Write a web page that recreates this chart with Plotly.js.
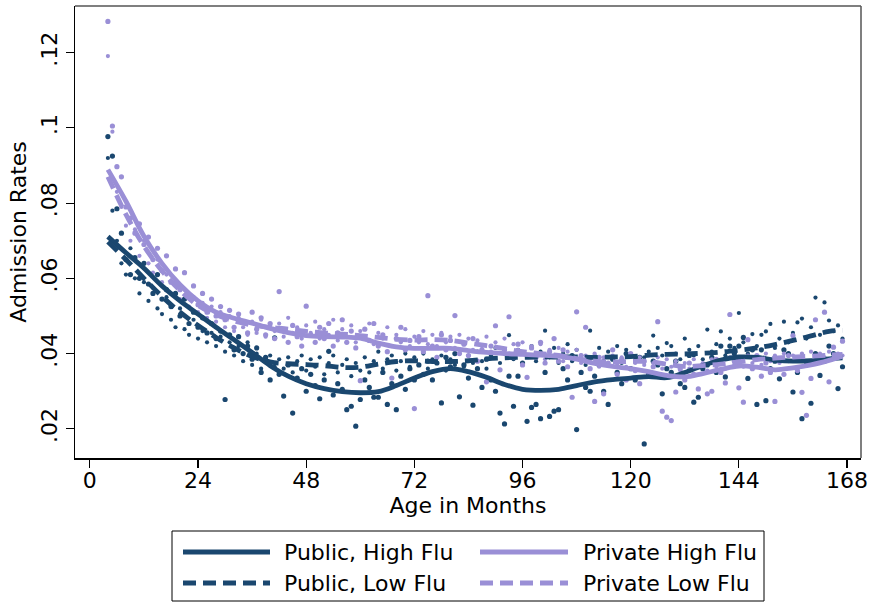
<!DOCTYPE html>
<html>
<head>
<meta charset="utf-8">
<script src="https://cdn.plot.ly/plotly-3.0.1.min.js"></script>
<style>html,body{margin:0;padding:0;background:#fff;}#chart{width:873px;height:607px;}</style>
</head>
<body>
<div id="chart"></div>
<script>
// ---------------- DATA ----------------
const seriesNames = ["Public, High Flu", "Public, Low Flu", "Private High Flu", "Private Low Flu"];
const xTicks = [0, 24, 48, 72, 96, 120, 144, 168];
const yTicks = [0.02, 0.04, 0.06, 0.08, 0.10, 0.12];
const yTickText = [".02", ".04", ".06", ".08", ".1", ".12"];

const firstMonth = 4, lastMonth = 167;
const months = Array.from({length: lastMonth - firstMonth + 1}, (_, i) => firstMonth + i);

const pubHiPts = [
0.0977,0.0925,0.0785,0.0720,0.0650,0.0610,0.0655,0.0600,0.0640,0.0585,0.0560,0.0610,
0.0545,0.0570,0.0525,0.0560,0.0500,0.0545,0.0480,0.0510,0.0470,0.0495,0.0455,0.0480,
0.0440,0.0460,0.0278,0.0450,0.0410,0.0445,0.0400,0.0420,0.0385,0.0415,0.0350,0.0390,
0.0330,0.0442,0.0345,0.0287,0.0370,0.0242,0.0335,0.0360,0.0300,0.0345,0.0315,0.0280,
0.0330,0.0406,0.0290,0.0320,0.0305,0.0251,0.0260,0.0207,0.0278,0.0330,0.0310,0.0284,
0.0284,0.0350,0.0265,0.0320,0.0251,0.0340,0.0305,0.0360,0.0330,0.0370,0.0345,0.0380,
0.0330,0.0375,0.0269,0.0390,0.0365,0.0400,0.0285,0.0370,0.0335,0.0263,0.0360,0.0310,
0.0385,0.0330,0.0300,0.0242,0.0213,0.0340,0.0260,0.0340,0.0375,0.0220,0.0257,0.0265,
0.0227,0.0350,0.0233,0.0247,0.0251,0.0360,0.0330,0.0395,0.0198,0.0350,0.0310,0.0300,
0.0340,0.0370,0.0300,0.0265,0.0385,0.0350,0.0320,0.0400,0.0360,0.0330,0.0390,0.0160,
0.0345,0.0380,0.0370,0.0293,0.0360,0.0350,0.0380,0.0320,0.0310,0.0395,0.0271,0.0284,
0.0360,0.0370,0.0390,0.0350,0.0420,0.0338,0.0420,0.0400,0.0420,0.0443,0.0334,0.0410,
0.0265,0.0410,0.0275,0.0360,0.0380,0.0333,0.0410,0.0400,0.0298,0.0350,0.0227,0.0370,
0.0268,0.0400,0.0342,0.0380,0.0420,0.0400,0.0307,0.0365];

const pubLoPts = [
0.0920,0.0780,0.0700,0.0640,0.0610,0.0680,0.0600,0.0560,0.0590,0.0540,0.0575,0.0520,
0.0505,0.0550,0.0490,0.0470,0.0520,0.0465,0.0450,0.0490,0.0440,0.0460,0.0430,0.0455,
0.0420,0.0445,0.0405,0.0430,0.0395,0.0420,0.0380,0.0430,0.0370,0.0400,0.0360,0.0390,
0.0395,0.0365,0.0385,0.0360,0.0390,0.0350,0.0380,0.0395,0.0355,0.0385,0.0365,0.0390,
0.0345,0.0375,0.0395,0.0350,0.0370,0.0385,0.0340,0.0375,0.0355,0.0390,0.0350,0.0380,
0.0405,0.0360,0.0385,0.0395,0.0355,0.0380,0.0400,0.0365,0.0390,0.0370,0.0400,0.0360,
0.0385,0.0375,0.0395,0.0355,0.0385,0.0370,0.0400,0.0365,0.0395,0.0375,0.0405,0.0380,
0.0360,0.0395,0.0415,0.0375,0.0400,0.0449,0.0385,0.0410,0.0370,0.0395,0.0420,0.0380,
0.0405,0.0461,0.0390,0.0415,0.0375,0.0400,0.0425,0.0380,0.0410,0.0395,0.0370,0.0461,
0.0395,0.0415,0.0380,0.0405,0.0390,0.0420,0.0375,0.0410,0.0395,0.0385,0.0420,0.0390,
0.0405,0.0448,0.0415,0.0395,0.0428,0.0420,0.0400,0.0385,0.0440,0.0410,0.0395,0.0420,
0.0385,0.0464,0.0405,0.0425,0.0459,0.0395,0.0440,0.0415,0.0508,0.0430,0.0400,0.0452,
0.0420,0.0450,0.0459,0.0479,0.0415,0.0440,0.0485,0.0430,0.0455,0.0483,0.0493,0.0440,
0.0470,0.0549,0.0450,0.0536,0.0488,0.0460,0.0475,0.0440];

const priHiPts = [
0.1283,0.1005,0.0897,0.0870,0.0790,0.0760,0.0720,0.0745,0.0690,0.0710,0.0650,0.0680,
0.0620,0.0660,0.0590,0.0625,0.0570,0.0615,0.0555,0.0580,0.0530,0.0560,0.0510,0.0545,
0.0500,0.0525,0.0490,0.0515,0.0470,0.0505,0.0485,0.0455,0.0510,0.0465,0.0495,0.0450,
0.0480,0.0440,0.0565,0.0460,0.0430,0.0475,0.0445,0.0420,0.0526,0.0450,0.0430,0.0470,
0.0440,0.0480,0.0420,0.0455,0.0490,0.0430,0.0460,0.0415,0.0328,0.0465,0.0435,0.0480,
0.0420,0.0450,0.0405,0.0335,0.0440,0.0470,0.0410,0.0435,0.0254,0.0445,0.0405,0.0554,
0.0420,0.0390,0.0450,0.0410,0.0435,0.0501,0.0400,0.0425,0.0395,0.0440,0.0380,0.0410,
0.0325,0.0420,0.0474,0.0357,0.0410,0.0498,0.0390,0.0425,0.0370,0.0337,0.0415,0.0390,
0.0430,0.0375,0.0405,0.0440,0.0380,0.0410,0.0365,0.0284,0.0511,0.0395,0.0470,0.0360,
0.0273,0.0390,0.0293,0.0375,0.0410,0.0345,0.0385,0.0330,0.0400,0.0355,0.0320,0.0380,
0.0340,0.0365,0.0485,0.0247,0.0231,0.0222,0.0298,0.0360,0.0330,0.0375,0.0345,0.0306,
0.0370,0.0293,0.0300,0.0385,0.0350,0.0322,0.0504,0.0380,0.0309,0.0271,0.0437,0.0360,
0.0395,0.0340,0.0375,0.0350,0.0273,0.0380,0.0345,0.0395,0.0448,0.0355,0.0297,0.0236,
0.0334,0.0490,0.0380,0.0510,0.0325,0.0417,0.0390,0.0433];

const priLoPts = [
0.1191,0.0990,0.0830,0.0790,0.0740,0.0700,0.0730,0.0660,0.0700,0.0640,0.0615,0.0650,
0.0590,0.0610,0.0560,0.0590,0.0545,0.0570,0.0525,0.0550,0.0510,0.0535,0.0495,0.0525,
0.0485,0.0510,0.0470,0.0500,0.0460,0.0495,0.0470,0.0450,0.0485,0.0455,0.0490,0.0445,
0.0475,0.0460,0.0480,0.0445,0.0495,0.0455,0.0470,0.0440,0.0475,0.0455,0.0485,0.0440,
0.0465,0.0450,0.0490,0.0435,0.0465,0.0445,0.0475,0.0430,0.0460,0.0445,0.0480,0.0425,
0.0455,0.0440,0.0470,0.0420,0.0450,0.0430,0.0465,0.0420,0.0445,0.0430,0.0460,0.0425,
0.0450,0.0420,0.0455,0.0430,0.0445,0.0415,0.0450,0.0425,0.0440,0.0410,0.0435,0.0420,
0.0445,0.0405,0.0430,0.0415,0.0440,0.0400,0.0425,0.0410,0.0430,0.0395,0.0420,0.0400,
0.0425,0.0385,0.0410,0.0395,0.0415,0.0380,0.0405,0.0390,0.0410,0.0375,0.0395,0.0385,
0.0400,0.0365,0.0390,0.0375,0.0395,0.0370,0.0390,0.0365,0.0395,0.0375,0.0390,0.0370,
0.0395,0.0375,0.0390,0.0360,0.0385,0.0365,0.0380,0.0355,0.0375,0.0360,0.0385,0.0365,
0.0375,0.0355,0.0385,0.0365,0.0380,0.0360,0.0390,0.0370,0.0385,0.0365,0.0395,0.0375,
0.0390,0.0370,0.0400,0.0380,0.0395,0.0375,0.0400,0.0380,0.0395,0.0385,0.0400,0.0380,
0.0405,0.0385,0.0400,0.0390,0.0405,0.0390,0.0400,0.0395];

// smoothed (lowess) curves, read at these months
const fitMonths = [4,8,12,16,20,24,28,32,36,40,44,48,52,56,60,64,68,72,76,80,84,88,92,96,100,104,108,112,116,120,124,128,132,136,140,144,148,152,156,160,164,167];
const pubHiFit = [0.0711,0.0668,0.0627,0.0580,0.0540,0.0505,0.0470,0.0437,0.0403,0.0368,0.0340,0.0320,0.0307,0.0299,0.0296,0.0299,0.0315,0.0335,0.0352,0.0360,0.0352,0.0337,0.0318,0.0305,0.0302,0.0305,0.0315,0.0325,0.0331,0.0335,0.0339,0.0336,0.0350,0.0368,0.0383,0.0391,0.0390,0.0383,0.0380,0.0381,0.0386,0.0389];
const pubLoFit = [0.0697,0.0650,0.0600,0.0552,0.0510,0.0475,0.0443,0.0415,0.0392,0.0378,0.0373,0.0371,0.0368,0.0363,0.0364,0.0372,0.0379,0.0381,0.0379,0.0379,0.0381,0.0386,0.0389,0.0390,0.0391,0.0391,0.0391,0.0390,0.0391,0.0392,0.0396,0.0398,0.0399,0.0401,0.0404,0.0409,0.0415,0.0424,0.0435,0.0447,0.0459,0.0462];
const priHiFit = [0.0889,0.0805,0.0712,0.0640,0.0583,0.0540,0.0510,0.0494,0.0481,0.0467,0.0456,0.0448,0.0445,0.0444,0.0441,0.0428,0.0418,0.0414,0.0414,0.0414,0.0408,0.0403,0.0400,0.0398,0.0396,0.0393,0.0385,0.0374,0.0366,0.0360,0.0352,0.0342,0.0338,0.0347,0.0358,0.0367,0.0364,0.0357,0.0362,0.0370,0.0382,0.0393];
const priLoFit = [0.0870,0.0770,0.0686,0.0620,0.0568,0.0528,0.0503,0.0487,0.0476,0.0470,0.0465,0.0459,0.0455,0.0452,0.0448,0.0443,0.0438,0.0436,0.0437,0.0435,0.0428,0.0421,0.0413,0.0405,0.0400,0.0395,0.0387,0.0380,0.0378,0.0379,0.0379,0.0372,0.0366,0.0368,0.0372,0.0378,0.0384,0.0388,0.0391,0.0393,0.0396,0.0398];

// ---------------- STYLE ----------------
const NAVY = "#1a476f";
const LAV = "#9a8fd6";
const FONT = "DejaVu Sans, Liberation Sans, sans-serif";
const FS = 22;
const W = 873, H = 607;
const M = {l: 75, r: 12, t: 6, b: 149};
const PW = W - M.l - M.r, PH = H - M.t - M.b;
const px = x => (x - M.l) / PW;          // pixel -> paper x
const py = y => (H - M.b - y) / PH;      // pixel -> paper y

const dotStyles = [
  {color: NAVY, size: 5.2},
  {color: NAVY, size: 4.2},
  {color: LAV, size: 5.2},
  {color: LAV, size: 4.2}
];
const lineStyles = [
  {color: NAVY, dash: "solid"},
  {color: NAVY, dash: "13px,7px"},
  {color: LAV, dash: "solid"},
  {color: LAV, dash: "13px,7px"}
];
const pts = [pubHiPts, pubLoPts, priHiPts, priLoPts];
const fits = [pubHiFit, pubLoFit, priHiFit, priLoFit];

const traces = [];
pts.forEach((p, i) => {
  traces.push({
    type: "scatter", mode: "markers", x: months, y: p, name: seriesNames[i],
    showlegend: false, hoverinfo: "skip",
    marker: {color: dotStyles[i].color, size: dotStyles[i].size, line: {width: 0}}
  });
});
fits.forEach((f, i) => {
  traces.push({
    type: "scatter", mode: "lines", x: fitMonths, y: f, name: seriesNames[i],
    showlegend: false,
    line: {color: lineStyles[i].color, width: 4.8, dash: lineStyles[i].dash, shape: "spline", smoothing: 1}
  });
});

// manual legend (Stata style box with long samples)
const legBox = {x0: 172, x1: 764, y0: 531, y1: 601};
const legRows = [552, 583];
const legCols = [{l0: 183, l1: 270, t: 282}, {l0: 480, l1: 568, t: 581}];
const legOrder = [[0, 0, 0], [2, 0, 1], [1, 1, 0], [3, 1, 1]]; // series, row, col

const shapes = [
  // top and right frame lines (grey, like Stata)
  {type: "line", xref: "paper", yref: "paper", x0: 0, x1: 1, y0: 1, y1: 1, line: {color: "#555", width: 1.5}},
  {type: "line", xref: "paper", yref: "paper", x0: 1, x1: 1, y0: 0, y1: 1, line: {color: "#555", width: 1.5}},
  {type: "rect", xref: "paper", yref: "paper", x0: px(legBox.x0), x1: px(legBox.x1), y0: py(legBox.y1), y1: py(legBox.y0),
   line: {color: "#000", width: 1}, fillcolor: "rgba(0,0,0,0)"}
];
const annotations = [];
legOrder.forEach(([s, r, c]) => {
  const col = legCols[c], y = legRows[r];
  shapes.push({type: "line", xref: "paper", yref: "paper", x0: px(col.l0), x1: px(col.l1), y0: py(y), y1: py(y),
    line: {color: lineStyles[s].color, width: 4.8, dash: lineStyles[s].dash}});
  annotations.push({xref: "paper", yref: "paper", x: px(col.t), y: py(y), xanchor: "left", yanchor: "middle",
    text: seriesNames[s], showarrow: false, font: {family: FONT, size: FS, color: "#000"}});
});

const layout = {
  width: W, height: H,
  margin: M,
  paper_bgcolor: "#fff", plot_bgcolor: "#fff",
  showlegend: false,
  font: {family: FONT, color: "#000"},
  xaxis: {
    range: [-3.3, 171.1], tickvals: xTicks, ticktext: xTicks.map(String),
    ticks: "outside", ticklen: 8, tickwidth: 1.2, tickcolor: "#000",
    showline: true, linecolor: "#000", linewidth: 1.5, showgrid: false, zeroline: false,
    tickfont: {family: FONT, size: FS, color: "#000"}, ticklabelstandoff: -6,
    title: {text: "Age in Months", font: {family: FONT, size: FS, color: "#000"}, standoff: 0},
    automargin: false
  },
  yaxis: {
    range: [0.01225, 0.1324], tickvals: yTicks, ticktext: yTickText, tickangle: -90,
    ticks: "outside", ticklen: 8, tickwidth: 1.2, tickcolor: "#000",
    showline: true, linecolor: "#000", linewidth: 1.5, showgrid: false, zeroline: false,
    tickfont: {family: FONT, size: FS, color: "#000"},
    title: {text: "Admission Rates", font: {family: FONT, size: FS, color: "#000"}, standoff: 4},
    automargin: false
  },
  shapes: shapes,
  annotations: annotations
};

Plotly.newPlot("chart", traces, layout, {displayModeBar: false, staticPlot: true});
</script>
</body>
</html>
